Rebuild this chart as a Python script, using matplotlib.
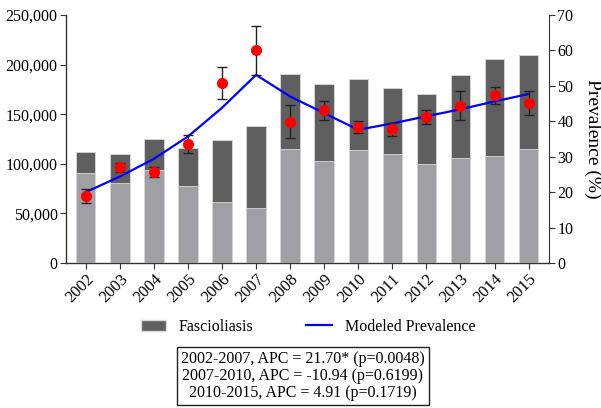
import matplotlib
matplotlib.use("Agg")
import matplotlib.pyplot as plt
import numpy as np
from matplotlib.patches import Patch
from matplotlib.lines import Line2D

plt.rcParams['font.family'] = ['Liberation Serif', 'DejaVu Serif']

years = ['2002', '2003', '2004', '2005', '2006', '2007', '2008',
         '2009', '2010', '2011', '2012', '2013', '2014', '2015']
fasc_total = [111900, 109600, 125300, 116300, 123700, 138400, 190200,
              180400, 185100, 176000, 170000, 189100, 206000, 209300]
light_part = [90700, 80300, 93400, 77300, 61500, 55400, 114600,
              102800, 113900, 110200, 100100, 105400, 108200, 114900]
prev_obs = [19.0, 27.0, 25.8, 33.6, 50.7, 60.0, 39.9,
            43.1, 38.5, 37.7, 41.1, 44.3, 47.5, 45.2]
prev_hi = [21.0, 28.3, 27.0, 36.2, 55.4, 66.8, 44.6,
           45.8, 40.1, 39.4, 43.2, 48.5, 49.7, 48.6]
prev_lo = [17.0, 25.7, 24.4, 31.0, 46.2, 53.2, 35.4,
           40.4, 36.8, 35.8, 39.2, 40.4, 44.9, 41.8]
modeled = [20.0, 24.4, 29.4, 35.7, 43.8, 53.1, 47.0,
           42.3, 37.6, 39.4, 41.4, 43.4, 45.6, 47.7]
apc_text = ["2002-2007, APC = 21.70* (p=0.0048)",
            "2007-2010, APC = -10.94 (p=0.6199)",
            "2010-2015, APC = 4.91 (p=0.1719)"]

W, H = 601, 408
fig = plt.figure(figsize=(W/100, H/100), dpi=100)
ax = fig.add_axes([66/W, 1-263/H, (549-66)/W, (263-15)/H])
x = np.arange(len(years))
dark = '#5f5f5f'
light = '#a0a0a4'
ax.bar(x, fasc_total, width=0.57, color=dark, edgecolor='#d8d8d8', linewidth=0.6, zorder=2)
ax.bar(x, light_part, width=0.57, color=light, edgecolor='#d8d8d8', linewidth=0.6, zorder=3)
ax.set_xlim(-0.58, 13.6)
ax.set_ylim(0, 250000)
ax.set_yticks(range(0, 250001, 50000))
ax.set_yticklabels([f"{v:,}" for v in range(0, 250001, 50000)], fontsize=11.5)
ax.set_xticks(x)
ax.set_xticklabels(years, rotation=45, ha='right', rotation_mode='anchor', fontsize=12)
for s in ['top', 'right']:
    ax.spines[s].set_visible(False)
for s in ['left', 'bottom']:
    ax.spines[s].set_color('#333333')
    ax.spines[s].set_linewidth(1.0)
ax.tick_params(axis='both', direction='out', length=4, color='#333333', pad=2)

ax2 = ax.twinx()
ax2.set_ylim(0, 70)
ax2.set_yticks(range(0, 71, 10))
ax2.tick_params(axis='y', direction='out', length=4, color='#333333', labelsize=11.5, pad=2)
for s in ['top', 'left', 'bottom']:
    ax2.spines[s].set_visible(False)
ax2.spines['right'].set_color('#333333')
ax2.set_ylabel('Prevalence (%)', rotation=270, fontsize=14, labelpad=20)
ax2.plot(x, modeled, color='#0000ff', linewidth=1.6, zorder=4)
obs = np.array(prev_obs)
yerr = [obs - np.array(prev_lo), np.array(prev_hi) - obs]
ax2.errorbar(x, obs, yerr=yerr, fmt='none', ecolor='#222222', elinewidth=1.0, capsize=3.5, capthick=1.0, zorder=5)
ax2.plot(x, obs, 'o', color='#ff0000', markersize=7, zorder=6, linestyle='none')

handles = [Patch(facecolor=dark, edgecolor='#d8d8d8'),
           Line2D([0], [0], color='#0000ff', linewidth=1.6)]
fig.legend(handles, ['Fascioliasis', 'Modeled Prevalence'], loc='center',
           bbox_to_anchor=(308/W, 1-327/H), ncol=2, frameon=False, fontsize=11.5,
           handlelength=1.6, handletextpad=0.8, columnspacing=3.3)

fig.text(303/W, 1-376/H, "\n".join(apc_text), ha='center', va='center', fontsize=11.5,
         linespacing=1.12,
         bbox=dict(boxstyle='square,pad=0.25', facecolor='white', edgecolor='#222222', linewidth=1.0))

fig.savefig('out.png', dpi=100)
